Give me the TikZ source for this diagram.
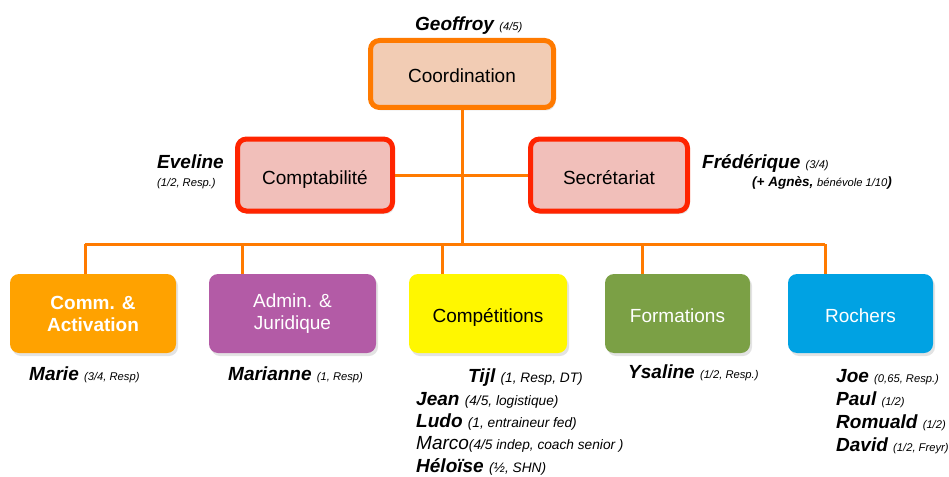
\documentclass[tikz,border=0pt]{standalone}
\usepackage{fontspec}
\setmainfont{Liberation Sans}
\usetikzlibrary{shadows}
\definecolor{orangeTrait}{HTML}{FF7A00}
\definecolor{rougeVif}{HTML}{FF2400}
\definecolor{peche}{HTML}{F2CCB4}
\definecolor{rose}{HTML}{F1BFBA}
\definecolor{orangePole}{HTML}{FFA200}
\definecolor{violetPole}{HTML}{B35BA6}
\definecolor{jaunePole}{HTML}{FFF700}
\definecolor{vertPole}{HTML}{7BA045}
\definecolor{bleuPole}{HTML}{00A2E3}
\newcommand\petit{\fontsize{11.2}{13}\selectfont\mdseries\itshape}
\newcommand\moyen{\fontsize{13.7}{16}\selectfont\mdseries\itshape}
\tikzset{
  boite/.style = {rounded corners=9pt, align=center, inner sep=0pt,
    font=\fontsize{19}{22}\selectfont,
    drop shadow={opacity=0.22, shadow xshift=2pt, shadow yshift=-3pt}},
  une_ligne/.style = {text height=18pt, text depth=0pt},% texte un peu plus bas
  boite_chef/.style = {boite, une_ligne, draw=orangeTrait, line width=5pt, fill=peche,
    minimum width=183pt, minimum height=67pt},% coordination
  boite_rouge/.style = {boite, une_ligne, draw=rougeVif, line width=5pt, fill=rose,
    minimum width=155pt, minimum height=72pt},% support
  boite_pole/.style = {boite, minimum height=79pt},% poles
  lien/.style = {draw=orangeTrait, line width=3pt},
  nom/.style = {anchor=base west, inner sep=0pt,
    font=\fontsize{19}{22}\selectfont\bfseries\itshape}
}

\begin{document}
\begin{tikzpicture}[x=1pt,y=-1pt]
\useasboundingbox (0,0) rectangle (949,476);

% niveau 1 et 2
\node [boite_chef] (coord) at (462,74) {Coordination};
\node [boite_rouge] (compta) at (315,175) {Comptabilité};
\node [boite_rouge, minimum width=157pt] (secr) at (609,175) {Secrétariat};

% poles
\node [boite_pole, fill=orangePole, text=white, font=\fontsize{19}{22}\selectfont\bfseries,
  minimum width=166pt] (comm) at (93,313.5) {Comm. \&\\Activation};
\node [boite_pole, fill=violetPole, text=white, minimum width=167pt] (admin) at (292.5,313.5) {Admin. \&\\Juridique};
\node [boite_pole, une_ligne, fill=jaunePole, minimum width=158pt] (compet) at (488,313.5) {Compétitions};
\node [boite_pole, une_ligne, fill=vertPole, text=white, minimum width=145pt] (form) at (677.5,313.5) {Formations};
\node [boite_pole, une_ligne, fill=bleuPole, text=white, minimum width=145pt] (roch) at (860.5,313.5) {Rochers};

% liens
\coordinate (bus) at (462,244);
\coordinate (b1) at (85,244);
\coordinate (b2) at (242,244);
\coordinate (b3) at (442,244);
\coordinate (b4) at (642,244);
\coordinate (b5) at (825,244);
\draw [lien] (compta) -- (secr);
\draw [lien] (coord) -- (bus);
\draw [lien] (b1) -- (b5);
\draw [lien] (b1) -- (b1 |- comm.north);
\draw [lien] (b2) -- (b2 |- admin.north);
\draw [lien] (b3) -- (b3 |- compet.north);
\draw [lien] (b4) -- (b4 |- form.north);
\draw [lien] (b5) -- (b5 |- roch.north);

% personnes
\node [nom] (geoffroy) at (415,31) {Geoffroy {\petit(4/5)}};
\node [nom] (eveline) at (157,168) {Eveline};
\node [nom] (eveline_t) at (157,186) {\petit(1/2, Resp.)};
\node [nom] (frederique) at (702,168) {Frédérique {\petit(3/4)}};
\node [nom, font=\fontsize{13.5}{16}\selectfont\bfseries\itshape] (agnes) at (752,186)
  {(+ Agnès, {\petit bénévole 1/10})};
\node [nom] (marie) at (29,380) {Marie {\petit(3/4, Resp)}};
\node [nom] (marianne) at (228,380) {Marianne {\petit(1, Resp)}};
\node [nom] (tijl) at (468,382) {Tijl {\moyen(1, Resp, DT)}};
\node [nom] (jean) at (416,405) {Jean {\moyen(4/5, logistique)}};
\node [nom] (ludo) at (416,427) {Ludo {\moyen(1, entraineur fed)}};
\node [nom, font=\fontsize{19}{22}\selectfont\itshape] (marco) at (416,449) {Marco{\moyen(4/5 indep, coach senior )}};
\node [nom] (heloise) at (416,472) {Héloïse {\moyen(½, SHN)}};
\node [nom] (ysaline) at (628,378) {Ysaline {\petit(1/2, Resp.)}};
\node [nom] (joe) at (836,382) {Joe {\petit(0,65, Resp.)}};
\node [nom] (paul) at (836,405) {Paul {\petit(1/2)}};
\node [nom] (romuald) at (836,428) {Romuald {\petit(1/2)}};
\node [nom] (david) at (836,451) {David {\petit(1/2, Freyr)}};
\end{tikzpicture}
\end{document}
